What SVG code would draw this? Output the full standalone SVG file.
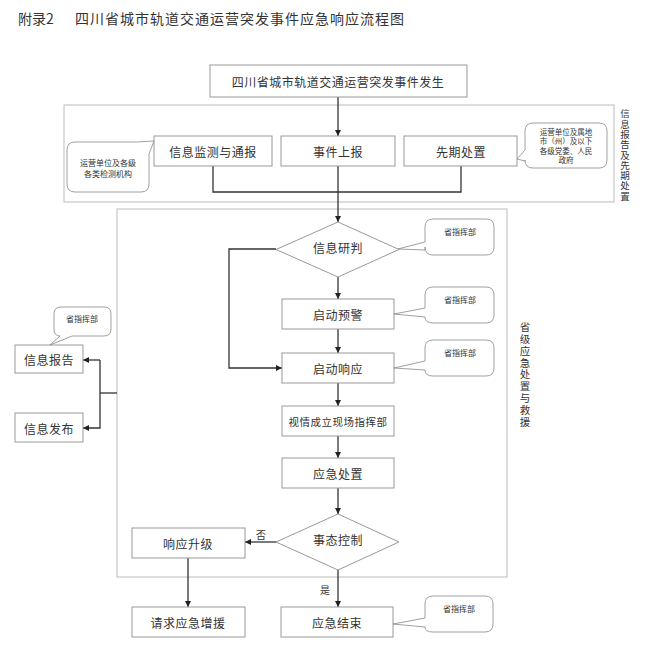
<svg xmlns="http://www.w3.org/2000/svg" width="653" height="668" viewBox="0 0 653 668">
<defs>
<marker id="ah" viewBox="0 0 10 10" refX="10" refY="5" markerWidth="6" markerHeight="6" markerUnits="userSpaceOnUse" orient="auto">
<path d="M0,0 L10,5 L0,10 Z" fill="#222"/>
</marker>
<style>
text{font-family:"Noto Sans CJK SC","Noto Sans CJK TC",sans-serif;fill:#333;}
.t{font-size:12px;text-anchor:middle;dominant-baseline:central;letter-spacing:0.5px;}
.s{font-size:8px;text-anchor:middle;dominant-baseline:central;}
.s2{font-size:7.5px;text-anchor:middle;dominant-baseline:central;}
.vt{writing-mode:vertical-rl;text-orientation:upright;}
.box{fill:#fff;stroke:#999;stroke-width:1;}
.frame{fill:none;stroke:#bbb;stroke-width:1;}
.bub{fill:#fff;stroke:#888;stroke-width:0.8;}
.c{fill:none;stroke:#333;stroke-width:1.3;}
.ca{fill:none;stroke:#333;stroke-width:1.3;marker-end:url(#ah);}
</style>
</defs>
<rect width="653" height="668" fill="#fff"/>
<g id="title">
<text x="18" y="18" style="font-size:14px;dominant-baseline:central;">附录2</text>
<text x="75" y="18" style="font-size:14px;dominant-baseline:central;letter-spacing:1px;">四川省城市轨道交通运营突发事件应急响应流程图</text>
</g>
<g id="frames">
<rect class="frame" x="64" y="105" width="550" height="97"/>
<rect class="frame" x="117" y="209" width="390" height="368"/>
<text class="vt" x="625" y="109" style="font-size:9.5px;letter-spacing:0.8px;">信息报告及先期处置</text>
<text class="vt" x="525" y="322" style="font-size:10.5px;letter-spacing:1.3px;">省级应急处置与救援</text>
</g>
<g id="connectors">
<path class="ca" d="M338,97 V136"/>
<path class="c" d="M213,166 V192 H461 V166"/>
<path class="ca" d="M338,166 V222"/>
<path class="ca" d="M338,277 V299"/>
<path class="ca" d="M338,329 V353"/>
<path class="ca" d="M276,249 H229 V368 H282"/>
<path class="ca" d="M338,383 V406"/>
<path class="ca" d="M338,436 V458"/>
<path class="ca" d="M338,488 V514"/>
<path class="ca" d="M276,542 H245"/>
<path class="ca" d="M338,570 V607"/>
<path class="ca" d="M188,558 V607"/>
<path class="c" d="M117,393 H100"/>
<path class="ca" d="M100,360 H83"/>
<path class="ca" d="M100,360 V428 H83"/>
<text x="261" y="534" style="font-size:10px;text-anchor:middle;dominant-baseline:central;">否</text>
<text x="325" y="589" style="font-size:10px;text-anchor:middle;dominant-baseline:central;">是</text>
</g>
<g id="n-start"><rect class="box" x="210" y="65" width="257" height="32"/><text class="t" x="338" y="81">四川省城市轨道交通运营突发事件发生</text></g>
<g id="n-monitor"><rect class="box" x="154" y="136" width="118" height="30"/><text class="t" x="213" y="151">信息监测与通报</text></g>
<g id="n-report"><rect class="box" x="281" y="136" width="114" height="30"/><text class="t" x="338" y="151">事件上报</text></g>
<g id="n-early"><rect class="box" x="404" y="136" width="113" height="30"/><text class="t" x="461" y="151">先期处置</text></g>
<g id="b-monitor"><path class="bub" d="M75,142 H137 L154,141 L149,154 V184 Q149,192 141,192 H75 Q67,192 67,184 V150 Q67,142 75,142 Z"/><text class="s" x="108" y="162">运营单位及各级</text><text class="s" x="108" y="173">各类检测机构</text></g>
<g id="b-early"><path class="bub" d="M533,123 H599 Q607,123 607,131 V160 Q607,168 599,168 H533 Q525,168 525,160 V161 L517,159 L525,150 V131 Q525,123 533,123 Z"/><text class="s2" x="566" y="131">运营单位及属地</text><text class="s2" x="566" y="140.5">市（州）及以下</text><text class="s2" x="566" y="150">各级党委、人民</text><text class="s2" x="566" y="159.5">政府</text></g>
<g id="n-judge"><path class="box" d="M338,222 L399,249.5 L338,277 L276,249.5 Z"/><text class="t" x="338" y="247">信息研判</text></g>
<g id="b-judge"><path class="bub" d="M433,219 H486 Q494,219 494,227 V247 Q494,255 486,255 H433 Q425,255 425,247 V250 L398,249 L425,242 V227 Q425,219 433,219 Z"/><text class="s" x="460" y="231">省指挥部</text></g>
<g id="n-warn"><rect class="box" x="282" y="299" width="112" height="30"/><text class="t" x="338" y="314">启动预警</text></g>
<g id="b-warn"><path class="bub" d="M433,287 H486 Q494,287 494,295 V315 Q494,323 486,323 H433 Q425,323 425,317 L394,314 L425,308 V295 Q425,287 433,287 Z"/><text class="s" x="460" y="299">省指挥部</text></g>
<g id="n-respond"><rect class="box" x="282" y="353" width="112" height="30"/><text class="t" x="338" y="368">启动响应</text></g>
<g id="b-respond"><path class="bub" d="M433,340 H486 Q494,340 494,348 V368 Q494,376 486,376 H433 Q425,376 425,370 L394,368 L425,361 V348 Q425,340 433,340 Z"/><text class="s" x="460" y="352">省指挥部</text></g>
<g id="n-site"><rect class="box" x="282" y="406" width="112" height="30"/><text class="t" x="338" y="421" style="font-size:10.5px;letter-spacing:0.5px;">视情成立现场指挥部</text></g>
<g id="n-handle"><rect class="box" x="282" y="458" width="112" height="30"/><text class="t" x="338" y="473">应急处置</text></g>
<g id="n-control"><path class="box" d="M338,514 L399,542 L338,570 L276,542 Z"/><text class="t" x="338" y="539">事态控制</text></g>
<g id="n-upgrade"><rect class="box" x="132" y="528" width="113" height="30"/><text class="t" x="188" y="543">响应升级</text></g>
<g id="n-reinforce"><rect class="box" x="132" y="607" width="113" height="30"/><text class="t" x="188" y="622">请求应急增援</text></g>
<g id="n-end"><rect class="box" x="281" y="607" width="112" height="30"/><text class="t" x="337" y="622">应急结束</text></g>
<g id="b-end"><path class="bub" d="M433,596 H485 Q493,596 493,604 V624 Q493,632 485,632 H433 Q425,632 425,627 L393,624 L425,618 V604 Q425,596 433,596 Z"/><text class="s" x="459" y="608">省指挥部</text></g>
<g id="n-inforeport"><rect class="box" x="15" y="345" width="68" height="28"/><text class="t" x="49" y="359">信息报告</text></g>
<g id="b-inforeport"><path class="bub" d="M61,307 H104 Q111,307 111,314 V329 Q111,336 104,336 H72 L50,345 L60,336 Q54,336 54,329 V314 Q54,307 61,307 Z"/><text class="s" x="82" y="318">省指挥部</text></g>
<g id="n-publish"><rect class="box" x="15" y="413" width="68" height="29"/><text class="t" x="49" y="428">信息发布</text></g>
</svg>
